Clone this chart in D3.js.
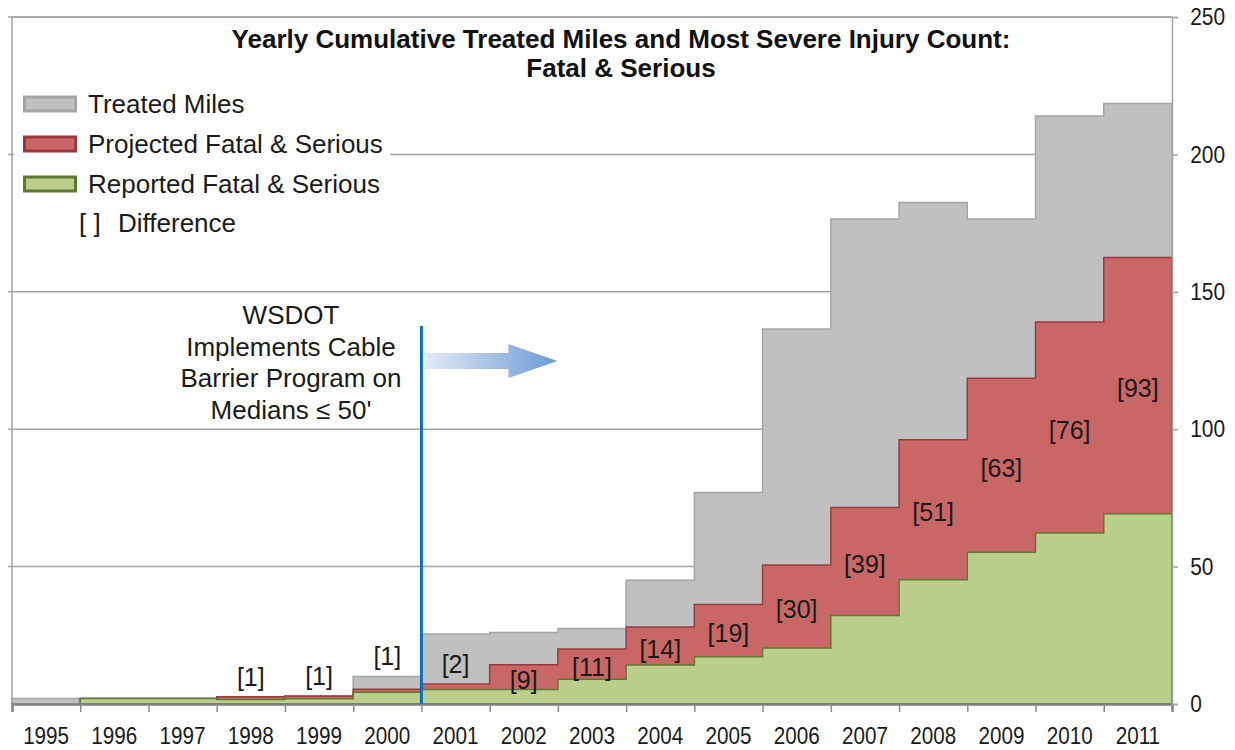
<!DOCTYPE html>
<html>
<head>
<meta charset="utf-8">
<script src="https://cdn.jsdelivr.net/npm/d3@7"></script>
<style>
    body { margin: 0; background: #fff; }
    svg { display: block; font-family: "Liberation Sans", Arial, sans-serif; }
</style>
</head>
<body>
<svg id="chart_main" width="1235" height="750"></svg>
<script>
// Chart values
const years = ["1995", "1996", "1997", "1998", "1999", "2000", "2001", "2002", "2003",
    "2004", "2005", "2006", "2007", "2008", "2009", "2010", "2011"];
const treatedMiles = [2, 2, 2, 2.5, 2.8, 10, 25.5, 26, 27.5, 45, 77, 136.5, 176.5, 182.5, 176.5, 214, 218.5];
const projectedFS = [null, 2, 2, 2.6, 2.9, 5.4, 7.3, 14.3, 20, 28, 36.2, 50.6, 71.5, 96.2, 118.5, 139, 162.5];
const reportedFS = [null, 2, 2, 1.6, 1.9, 4.3, 5.3, 5.3, 9, 14.2, 17.2, 20.4, 32.2, 45.2, 55.2, 62.2, 69.2];
const differenceLabels = [null, null, null, "[1]", "[1]", "[1]", "[2]", "[9]", "[11]", "[14]",
    "[19]", "[30]", "[39]", "[51]", "[63]", "[76]", "[93]"];
const yTicks = [0, 50, 100, 150, 200, 250];
const legendItems = ["Treated Miles", "Projected Fatal & Serious", "Reported Fatal & Serious"];
const titleLines = ["Yearly Cumulative Treated Miles and Most Severe Injury Count:", "Fatal & Serious"];
const noteLines = ["WSDOT", "Implements Cable", "Barrier Program on", "Medians \u2264 50'"];
const programStartYear = "2001";

const fills = { treated: "#c0c0c0", projected: "#c96767", reported: "#b9cf8b" };
const strokes = { treated: "#a5a5a5", projected: "#9a3b3b", reported: "#5d7a34" };

const margin = { top: 17, right: 63, bottom: 46, left: 12 };
const width = 1235, height = 750;

const svg = d3.select("#chart_main");

// Scales
const xScale = d3.scaleBand().domain(years).range([margin.left, width - margin.right]).padding(0);
const yScale = d3.scaleLinear().domain([0, 250]).range([height - margin.bottom, margin.top]);
const edgeScale = d3.scaleLinear().domain([0, years.length]).range([margin.left, width - margin.right]);

// Gridlines (under the areas) plus little ticks on the left frame
svg.append("g")
    .selectAll("line")
    .data(yTicks.filter(t => t > 0))
    .join("line")
    .attr("x1", margin.left - 4)
    .attr("x2", width - margin.right)
    .attr("y1", d => yScale(d))
    .attr("y2", d => yScale(d))
    .attr("stroke", "#a3a3a3")
    .attr("stroke-width", 1.5);

// Left frame
svg.append("line")
    .attr("x1", margin.left).attr("x2", margin.left)
    .attr("y1", yScale(250)).attr("y2", yScale(0))
    .attr("stroke", "#a3a3a3").attr("stroke-width", 1.5);

// Step areas: each year holds its value across its whole column
function stepPoints(values) {
    const pts = [];
    values.forEach((v, i) => {
        const x0 = xScale(years[i]);
        pts.push([x0, v]);
        pts.push([x0 + xScale.bandwidth(), v]);
    });
    return pts;
}

const area = d3.area()
    .defined(d => d[1] !== null)
    .x(d => d[0])
    .y0(yScale(0))
    .y1(d => yScale(d[1]));

const series = [
    { key: "treated", values: treatedMiles },
    { key: "projected", values: projectedFS },
    { key: "reported", values: reportedFS }
];

series.forEach(s => {
    svg.append("path")
        .datum(stepPoints(s.values))
        .attr("class", `area ${s.key}`)
        .attr("d", area)
        .attr("fill", fills[s.key])
        .attr("stroke", strokes[s.key])
        .attr("stroke-width", 1.5)
        .attr("stroke-linejoin", "miter");
});

// Difference labels
// inside the red band when it is tall enough, otherwise above it
svg.append("g")
    .selectAll("text")
    .data(differenceLabels.map((t, i) => ({ t, i })).filter(d => d.t))
    .join("text")
    .attr("x", d => xScale(years[d.i]) + xScale.bandwidth() / 2)
    .attr("y", d => {
        const p = projectedFS[d.i], r = reportedFS[d.i], tm = treatedMiles[d.i];
        let cy;
        if (p - r >= 4.5) cy = yScale((p + r) / 2) + 3;
        else if (tm - p >= 10) cy = yScale((p + tm) / 2) + 5;
        else cy = yScale(Math.max(p, tm)) - 20;
        return cy;
    })
    .attr("dy", "0.35em")
    .attr("text-anchor", "middle")
    .style("font-size", "25px")
    .attr("fill", "#1a1a1a")
    .text(d => d.t);

// Bottom axis line and column boundary ticks
svg.append("g")
    .attr("transform", `translate(0, ${yScale(0)})`)
    .call(d3.axisBottom(edgeScale).tickValues(d3.range(years.length + 1)).tickSize(8).tickFormat(""))
    .call(g => g.select(".domain").attr("stroke", "#7f7f7f").attr("stroke-width", 2.5))
    .call(g => g.selectAll(".tick line").attr("stroke", "#8a8a8a").attr("stroke-width", 1.5));

// Year labels
svg.append("g")
    .attr("transform", `translate(0, ${yScale(0)})`)
    .call(d3.axisBottom(xScale).tickSize(0).tickPadding(23))
    .call(g => g.select(".domain").remove())
    .selectAll("text")
    .style("font-size", "23.5px")
    .style("font-family", "Liberation Sans, Arial, sans-serif")
    .attr("fill", "#1a1a1a")
    .attr("transform", "scale(0.88,1)");

// Right axis
svg.append("g")
    .attr("transform", `translate(${width - margin.right}, 0)`)
    .call(d3.axisRight(yScale).tickValues(yTicks).tickSize(6).tickPadding(15))
    .call(g => g.select(".domain").attr("stroke", "#a3a3a3").attr("stroke-width", 1.5))
    .call(g => g.selectAll(".tick line").attr("stroke", "#a3a3a3").attr("stroke-width", 1.5))
    .selectAll("text")
    .style("font-size", "24px")
    .style("font-family", "Liberation Sans, Arial, sans-serif")
    .attr("fill", "#1a1a1a")
    .attr("transform", "scale(0.87,1)");

// Top frame line (250)
svg.append("line")
    .attr("x1", margin.left).attr("x2", width - margin.right)
    .attr("y1", yScale(250)).attr("y2", yScale(250))
    .attr("stroke", "#a3a3a3").attr("stroke-width", 1.5);

// Title
svg.append("g")
    .selectAll("text")
    .data(titleLines)
    .join("text")
    .attr("x", 621)
    .attr("y", (d, i) => 48 + i * 29)
    .attr("text-anchor", "middle")
    .style("font-size", "26px")
    .style("font-weight", "bold")
    .attr("fill", "#111")
    .text(d => d);

// Legend, white box hides the gridline behind it
const legend = svg.append("g").attr("class", "legend");
legend.append("rect")
    .attr("x", 14).attr("y", 86).attr("width", 376).attr("height", 152)
    .attr("fill", "#fff");

const legendKeys = ["treated", "projected", "reported"];
legendItems.forEach((label, i) => {
    const cy = 104 + i * 40;
    legend.append("rect")
        .attr("x", 24.5).attr("y", cy - 7)
        .attr("width", 51).attr("height", 14)
        .attr("fill", fills[legendKeys[i]])
        .attr("stroke", strokes[legendKeys[i]])
        .attr("stroke-width", 3);
    legend.append("text")
        .attr("x", 88).attr("y", cy + 9)
        .style("font-size", "26px")
        .attr("fill", "#1a1a1a")
        .text(label);
});
legend.append("text")
    .attr("x", 79).attr("y", 232)
    .style("font-size", "26px")
    .attr("fill", "#1a1a1a")
    .text("[ ]");
legend.append("text")
    .attr("x", 118).attr("y", 232)
    .style("font-size", "26px")
    .attr("fill", "#1a1a1a")
    .text("Difference");

// Program start annotation
const startX = xScale(programStartYear);

svg.append("g")
    .selectAll("text")
    .data(noteLines)
    .join("text")
    .attr("x", 291)
    .attr("y", (d, i) => 324 + i * 31.5)
    .attr("text-anchor", "middle")
    .style("font-size", "26px")
    .attr("fill", "#1a1a1a")
    .text(d => d);

// Gradient arrow
const defs = svg.append("defs");
const grad = defs.append("linearGradient").attr("id", "arrowGrad")
    .attr("x1", "0%").attr("x2", "100%").attr("y1", "0%").attr("y2", "0%");
grad.append("stop").attr("offset", "0%").attr("stop-color", "#e3eaf6");
grad.append("stop").attr("offset", "100%").attr("stop-color", "#6d9ad6");

const ay = 361;
svg.append("path")
    .attr("d", `M${startX + 3},${ay - 8} L${startX + 87},${ay - 8} L${startX + 87},${ay - 17} L${startX + 136},${ay} L${startX + 87},${ay + 17} L${startX + 87},${ay + 8} L${startX + 3},${ay + 8} Z`)
    .attr("fill", "url(#arrowGrad)");

// Blue vertical marker
svg.append("line")
    .attr("x1", startX).attr("x2", startX)
    .attr("y1", 326).attr("y2", yScale(0))
    .attr("stroke", "#0b6fc6")
    .attr("stroke-width", 3);
</script>
</body>
</html>
